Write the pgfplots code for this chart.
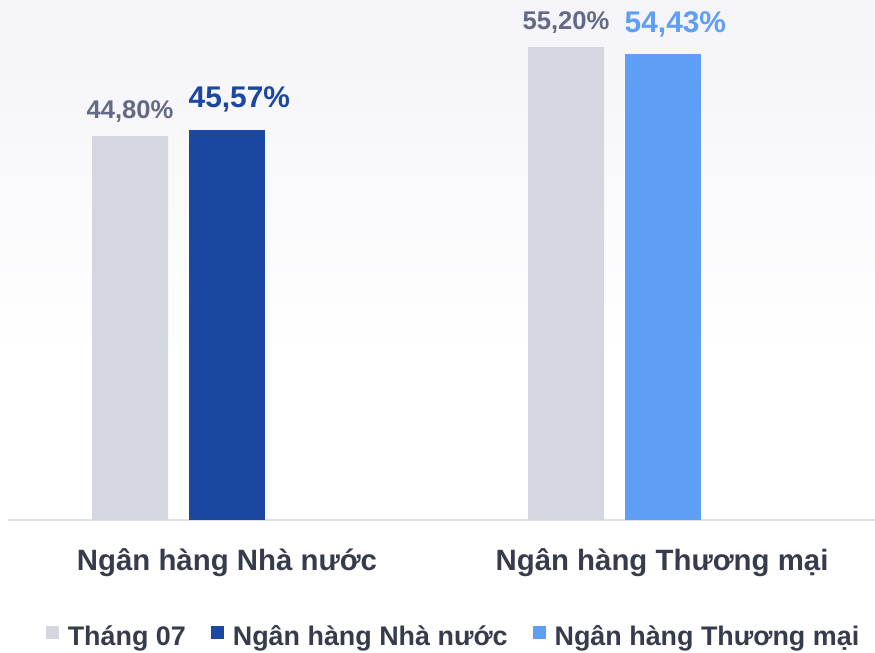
\documentclass[border=0pt]{standalone}
\usepackage{pgfplots}
\pgfplotsset{compat=1.18}
\usepackage{fontspec}
\setmainfont{Liberation Sans}
\definecolor{cgray}{HTML}{D4D7E0}
\definecolor{cdark}{HTML}{1A47A0}
\definecolor{clight}{HTML}{5E9EF5}
\definecolor{cval}{HTML}{646A85}
\definecolor{ctext}{HTML}{363C4C}
\definecolor{cline}{HTML}{DEE1E8}
\definecolor{cbg}{HTML}{F4F4F9}
\begin{document}
\begin{tikzpicture}[x=1bp,y=1bp]
\useasboundingbox (0,0) rectangle (875,653);
\shade[top color=cbg, bottom color=white] (0,300) rectangle (875,653);
\begin{axis}[
  at={(8bp,133bp)}, anchor=south west,
  scale only axis, width=867bp, height=520bp,
  xmin=8, xmax=875, ymin=0, ymax=60.7,
  axis y line=none,
  axis x line*=bottom,
  x axis line style={draw=cline, line width=2bp, -},
  xtick={227,662},
  xticklabels={Ngân hàng Nhà nước, Ngân hàng Thương mại},
  major tick length=0pt,
  xticklabel style={font=\fontsize{29.5}{30}\selectfont\bfseries, text=ctext, anchor=base, yshift=-51bp, inner sep=0pt},
  ybar, bar width=76, bar shift=0pt,
  point meta=explicit symbolic,
  nodes near coords,
  legend columns=3,
  legend style={at={(0.5127,0)}, anchor=center, yshift=-116bp, draw=none, fill=none,
    font=\fontsize{27}{27}\selectfont\bfseries, text=ctext,
    /tikz/every even column/.append style={column sep=25bp},
    nodes={inner xsep=0pt, inner ysep=1pt}},
  legend image code/.code={\fill[#1, draw=none] (0bp,-3.5bp) rectangle (13bp,9.5bp);},
  legend cell align=left,
]
\addplot[fill=cgray, draw=none,
  nodes near coords style={font=\fontsize{25.7}{26}\selectfont\bfseries, text=cval, anchor=base, inner sep=0pt, yshift=18bp}]
  coordinates {(130,44.80) [44,80\%] (566,55.20) [55,20\%]};
\addlegendentry{\hspace{9bp}Tháng 07}
\addplot[fill=cdark, draw=none,
  nodes near coords style={font=\fontsize{30}{30}\selectfont\bfseries, text=cdark, anchor=base west, inner sep=0pt, xshift=-38bp, yshift=22bp}]
  coordinates {(226.5,45.57) [45,57\%]};
\addlegendentry{\hspace{9bp}Ngân hàng Nhà nước}
\addplot[fill=clight, draw=none,
  nodes near coords style={font=\fontsize{30}{30}\selectfont\bfseries, text=clight, anchor=base west, inner sep=0pt, xshift=-38bp, yshift=21bp}]
  coordinates {(662.5,54.43) [54,43\%]};
\addlegendentry{\hspace{9bp}Ngân hàng Thương mại}
\end{axis}
\end{tikzpicture}
\end{document}
